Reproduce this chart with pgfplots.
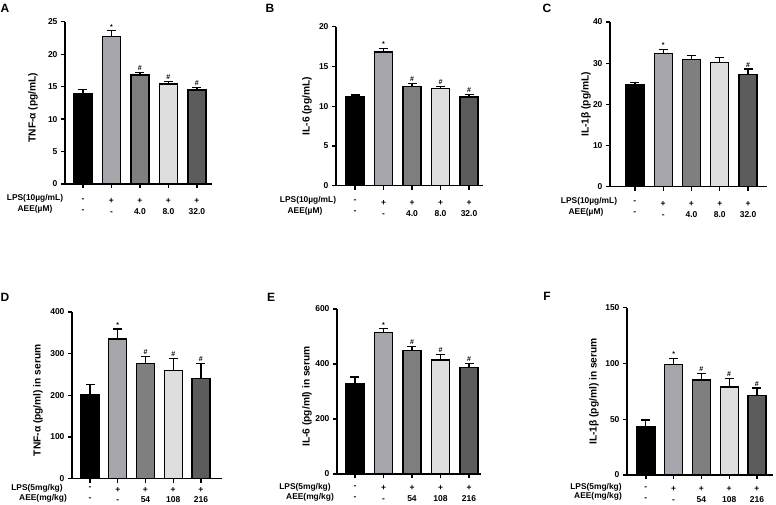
\documentclass[border=0pt]{standalone}
\usepackage{fontspec}
\setmainfont{Liberation Sans}
\usepackage{pgfplots}
\pgfplotsset{compat=1.18}

\definecolor{gA}{HTML}{000000}
\definecolor{gB}{HTML}{A5A5AB}
\definecolor{gC}{HTML}{7F7F7F}
\definecolor{gD}{HTML}{DEDEDE}
\definecolor{gE}{HTML}{5C5C5C}

\pgfplotsset{
  panel/.style={
    scale only axis, clip=false,
    axis x line*=bottom, axis y line*=left,
    axis line style={line width=1.3pt},
    ymin=0,
    ybar, bar width=18pt,
    xtick={0,1,2,3,4},
    tick align=outside, major tick length=4pt,
    tick style={line width=1.3pt, black},
    /pgf/number format/assume math mode=true,
    ticklabel style={font=\bfseries\fontsize{8.5}{11}\selectfont},
    xticklabel style={align=center, inner sep=0.8pt, yshift=-9.5pt},
    ylabel style={font=\bfseries\fontsize{10.2}{12}\selectfont, anchor=center},
  },
  lowrow/.style={xticklabel style={font=\bfseries\fontsize{8.5}{10.3}\selectfont, yshift=#1}},
  bar/.style={fill=#1, draw=black, line width=1.3pt, bar shift=0pt,
    error bars/.cd, y dir=plus, y explicit,
    error bar style={line width=1.2pt, black},
    error mark options={rotate=90, mark size=4.5pt, line width=1.2pt, black}},
}
\tikzset{
  sig/.style={font=\bfseries\fontsize{7}{7}\selectfont, anchor=south, inner sep=1.5pt},
  rowlab/.style={font=\bfseries\fontsize{8.4}{9}\selectfont, inner sep=0.5pt},
  letter/.style={font=\bfseries\fontsize{12}{12}\selectfont},
}

\begin{document}
\begin{tikzpicture}
\path[use as bounding box] (0,0) rectangle (776pt,504pt);

% ---- A: TNF-alpha in cells
\begin{axis}[panel, at={(65pt,320pt)}, anchor=south west,
    width=147pt, height=162.3pt,
    xmin=-0.63, xmax=4.53, ymax=25, ytick={0,5,10,15,20,25},
    xticklabels={{-\\-},{+\\-},{+\\4.0},{+\\8.0},{+\\32.0}},
    ylabel={TNF-α (pg/mL)},
    ylabel style={at={(axis description cs:-0.218,0.47)}}]
\addplot[bar=gA] coordinates {(0,13.9) +- (0,0.6)};
\addplot[bar=gB] coordinates {(1,22.7) +- (0,0.9)};
\addplot[bar=gC] coordinates {(2,16.8) +- (0,0.4)};
\addplot[bar=gD] coordinates {(3,15.4) +- (0,0.4)};
\addplot[bar=gE] coordinates {(4,14.5) +- (0,0.4)};
\node[sig] at (axis cs:1,23.6) {*};
\node[sig] at (axis cs:2,17.2) {\#};
\node[sig] at (axis cs:3,15.8) {\#};
\node[sig] at (axis cs:4,14.9) {\#};
\end{axis}

% ---- B: IL-6 in cells
\begin{axis}[panel, at={(336pt,318.3pt)}, anchor=south west,
    width=147pt, height=159pt,
    xmin=-0.67, xmax=4.49, ymax=20, ytick={0,5,10,15,20},
    xticklabels={{-\\-},{+\\-},{+\\4.0},{+\\8.0},{+\\32.0}},
    ylabel={IL-6 (pg/mL)},
    ylabel style={at={(axis description cs:-0.197,0.5)}}]
\addplot[bar=gA] coordinates {(0,11.25) +- (0,0.15)};
\addplot[bar=gB] coordinates {(1,16.8) +- (0,0.45)};
\addplot[bar=gC] coordinates {(2,12.5) +- (0,0.4)};
\addplot[bar=gD] coordinates {(3,12.2) +- (0,0.3)};
\addplot[bar=gE] coordinates {(4,11.15) +- (0,0.35)};
\node[sig] at (axis cs:1,17.25) {*};
\node[sig] at (axis cs:2,12.9) {\#};
\node[sig] at (axis cs:3,12.5) {\#};
\node[sig] at (axis cs:4,11.5) {\#};
\end{axis}

% ---- C: IL-1beta in cells
\begin{axis}[panel, at={(610pt,317.3pt)}, anchor=south west,
    width=157pt, height=164.7pt,
    xmin=-0.88, xmax=4.67, ymax=40, ytick={0,10,20,30,40},
    xticklabels={{-\\-},{+\\-},{+\\4.0},{+\\8.0},{+\\32.0}},
    ylabel={IL-1β (pg/mL)},
    ylabel style={at={(axis description cs:-0.153,0.5)}}]
\addplot[bar=gA] coordinates {(0,24.9) +- (0,0.45)};
\addplot[bar=gB] coordinates {(1,32.3) +- (0,1.1)};
\addplot[bar=gC] coordinates {(2,30.9) +- (0,1.0)};
\addplot[bar=gD] coordinates {(3,30.2) +- (0,1.1)};
\addplot[bar=gE] coordinates {(4,27.2) +- (0,1.4)};
\node[sig] at (axis cs:1,33.4) {*};
\node[sig] at (axis cs:4,28.6) {\#};
\end{axis}

% ---- D: TNF-alpha in serum
\begin{axis}[panel, at={(72pt,25.3pt)}, anchor=south west,
    width=150pt, height=166.7pt,
    xmin=-0.65, xmax=4.76, ymax=400, ytick={0,100,200,300,400},
    xticklabels={{-\\-},{+\\-},{+\\54},{+\\108},{+\\216}},
    lowrow=6pt,
    ylabel={TNF-α (pg/ml) in serum},
    ylabel style={at={(axis description cs:-0.227,0.47)}}]
\addplot[bar=gA] coordinates {(0,202) +- (0,25)};
\addplot[bar=gB] coordinates {(1,335) +- (0,24)};
\addplot[bar=gC] coordinates {(2,276) +- (0,18)};
\addplot[bar=gD] coordinates {(3,260) +- (0,28)};
\addplot[bar=gE] coordinates {(4,241) +- (0,36)};
\node[sig] at (axis cs:1,359) {*};
\node[sig] at (axis cs:2,294) {\#};
\node[sig] at (axis cs:3,288) {\#};
\node[sig] at (axis cs:4,277) {\#};
\end{axis}

% ---- E: IL-6 in serum
\begin{axis}[panel, at={(337pt,30pt)}, anchor=south west,
    width=144pt, height=165pt,
    xmin=-0.63, xmax=4.42, ymax=600, ytick={0,200,400,600},
    xticklabels={{-\\-},{+\\-},{+\\54},{+\\108},{+\\216}},
    lowrow=2.5pt,
    ylabel={IL-6 (pg/ml) in serum},
    ylabel style={at={(axis description cs:-0.208,0.47)}}]
\addplot[bar=gA] coordinates {(0,330) +- (0,23)};
\addplot[bar=gB] coordinates {(1,515) +- (0,13)};
\addplot[bar=gC] coordinates {(2,448) +- (0,16)};
\addplot[bar=gD] coordinates {(3,415) +- (0,20)};
\addplot[bar=gE] coordinates {(4,387) +- (0,15)};
\node[sig] at (axis cs:1,528) {*};
\node[sig] at (axis cs:2,464) {\#};
\node[sig] at (axis cs:3,435) {\#};
\node[sig] at (axis cs:4,402) {\#};
\end{axis}

% ---- F: IL-1beta in serum
\begin{axis}[panel, at={(627pt,29pt)}, anchor=south west,
    width=146pt, height=167.3pt,
    xmin=-0.68, xmax=4.58, ymax=150, ytick={0,50,100,150},
    xticklabels={{-\\-},{+\\-},{+\\54},{+\\108},{+\\216}},
    lowrow=2.5pt,
    ylabel={IL-1β (pg/ml) in serum},
    ylabel style={at={(axis description cs:-0.226,0.5)}}]
\addplot[bar=gA] coordinates {(0,43) +- (0,6.3)};
\addplot[bar=gB] coordinates {(1,98.9) +- (0,5.7)};
\addplot[bar=gC] coordinates {(2,85.2) +- (0,5.9)};
\addplot[bar=gD] coordinates {(3,78.9) +- (0,7.7)};
\addplot[bar=gE] coordinates {(4,71.4) +- (0,6.6)};
\node[sig] at (axis cs:1,104.6) {*};
\node[sig] at (axis cs:2,91.1) {\#};
\node[sig] at (axis cs:3,86.6) {\#};
\node[sig] at (axis cs:4,78) {\#};
\end{axis}

% row captions and panel letters
\node[rowlab] at (35pt,306pt) {LPS(10µg/mL)};
\node[rowlab] at (35pt,295pt) {AEE(µM)};
\node[rowlab] at (308pt,304pt) {LPS(10µg/mL)};
\node[rowlab] at (305pt,293pt) {AEE(µM)};
\node[rowlab] at (589pt,303pt) {LPS(10µg/mL)};
\node[rowlab] at (586pt,292pt) {AEE(µM)};
\node[rowlab] at (37pt,16pt) {LPS(5mg/kg)};
\node[rowlab] at (43pt,6pt) {AEE(mg/kg)};
\node[rowlab] at (305pt,17pt) {LPS(5mg/kg)};
\node[rowlab] at (310pt,7pt) {AEE(mg/kg)};
\node[rowlab] at (596pt,17pt) {LPS(5mg/kg)};
\node[rowlab] at (598pt,7.5pt) {AEE(mg/kg)};

\node[letter] at (5pt,496pt) {A};
\node[letter] at (270pt,496pt) {B};
\node[letter] at (547pt,496pt) {C};
\node[letter] at (5pt,207pt) {D};
\node[letter] at (271pt,207pt) {E};
\node[letter] at (547pt,208pt) {F};
\end{tikzpicture}
\end{document}
